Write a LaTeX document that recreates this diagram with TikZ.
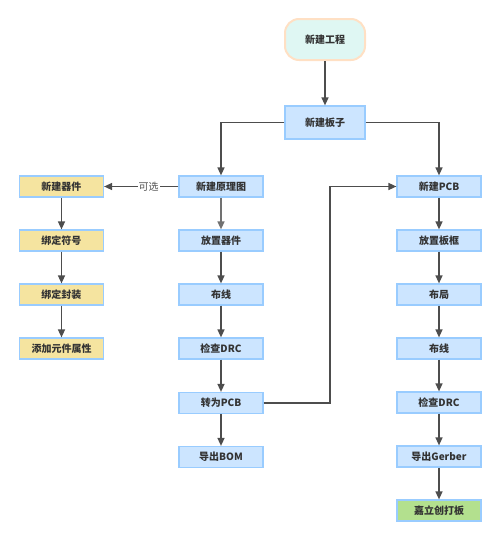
\documentclass[tikz,border=0pt]{standalone}
\usepackage{fontspec}
\setmainfont{Noto Sans CJK SC}
\usetikzlibrary{arrows.meta}
\definecolor{bfill}{HTML}{CCE5FF}
\definecolor{bdraw}{HTML}{99CCFF}
\definecolor{yfill}{HTML}{F5E4A0}
\definecolor{gfill}{HTML}{B3E08E}
\definecolor{tfill}{HTML}{DFF7F3}
\definecolor{tdraw}{HTML}{FFE0C4}
\definecolor{lcol}{HTML}{4D4D4D}
\definecolor{txt}{HTML}{333333}
\tikzset{
  box/.style={draw=bdraw, line width=1.2pt, fill=bfill, minimum width=84pt, minimum height=21pt, inner sep=0pt, font=\fontsize{10}{12}\selectfont\bfseries, text=txt},
  ybox/.style={box, fill=yfill},
  gbox/.style={box, fill=gfill},
  startbox/.style={draw=tdraw, line width=2pt, fill=tfill, rounded corners=14pt, minimum width=80pt, minimum height=41pt, inner sep=0pt, font=\fontsize{10}{12}\selectfont\bfseries, text=txt},
  conn/.style={draw=lcol, line width=1.4pt, -{Triangle[length=8pt,width=7pt]}},
  lbl/.style={fill=white, inner sep=1pt, font=\fontsize{10}{12}\selectfont, text=txt!85},
}
\begin{document}
\begin{tikzpicture}[x=1pt,y=-1pt]
\useasboundingbox (0,0) rectangle (500,541);
\node[startbox] (start) at (325,39.5) {新建工程};
\node[box, minimum width=80pt, minimum height=33pt] (board) at (325,122.5) {新建板子};
\node[box] (sch) at (221,186.5) {新建原理图};
\node[box] (place) at (221,240.5) {放置器件};
\node[box] (route1) at (221,294.5) {布线};
\node[box] (drc1) at (221,348.5) {检查DRC};
\node[box] (topcb) at (221,403) {转为PCB};
\node[box] (bom) at (221,457) {导出BOM};
\node[ybox] (newpart) at (61.5,186.5) {新建器件};
\node[ybox] (sym) at (61.5,240.5) {绑定符号};
\node[ybox] (fp) at (61.5,294.5) {绑定封装};
\node[ybox] (attr) at (61.5,348.5) {添加元件属性};
\node[box] (pcb) at (439,186.5) {新建PCB};
\node[box] (frame) at (439,240.5) {放置板框};
\node[box] (layout) at (439,294.5) {布局};
\node[box] (route2) at (439,348.5) {布线};
\node[box] (drc2) at (439,402.5) {检查DRC};
\node[box] (gerber) at (439,456.5) {导出Gerber};
\node[gbox] (jlc) at (439,510.5) {嘉立创打板};
\coordinate (turn) at (330,403);
\draw[conn] (start) -- (board);
\draw[conn] (board.west) -| (sch.north);
\draw[conn] (board.east) -| (pcb.north);
\draw[conn] (sch.west) -- node[lbl, pos=0.4] {可选} (newpart.east);
\draw[conn, draw=lcol!80] (sch) -- (place);
\draw[conn] (place) -- (route1);
\draw[conn] (route1) -- (drc1);
\draw[conn] (drc1) -- (topcb);
\draw[conn] (topcb) -- (bom);
\draw[conn] (topcb.east) -- (turn) |- (pcb.west);
\draw[conn] (newpart) -- (sym);
\draw[conn] (sym) -- (fp);
\draw[conn] (fp) -- (attr);
\draw[conn] (pcb) -- (frame);
\draw[conn] (frame) -- (layout);
\draw[conn] (layout) -- (route2);
\draw[conn] (route2) -- (drc2);
\draw[conn] (drc2) -- (gerber);
\draw[conn] (gerber) -- (jlc);
\end{tikzpicture}
\end{document}
